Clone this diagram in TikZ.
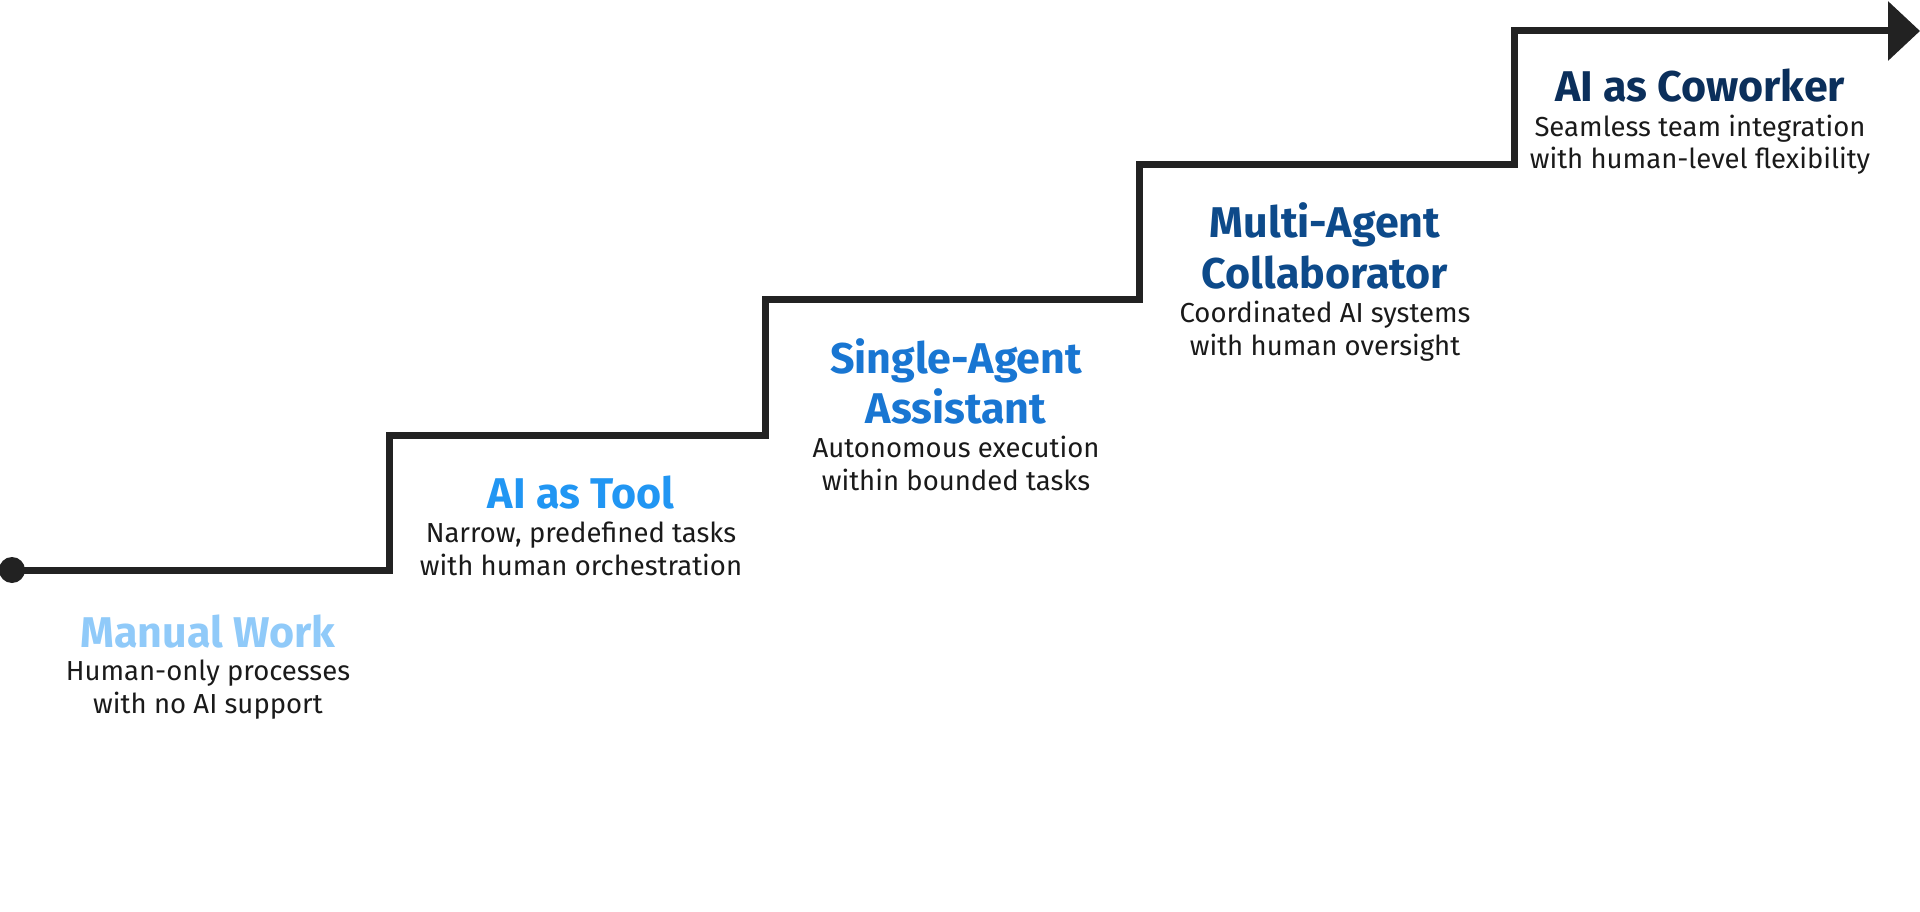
\documentclass[tikz,border=0pt]{standalone}
\usepackage{fontspec}
\setmainfont{Fira Sans}
\usetikzlibrary{arrows.meta}
\definecolor{lineC}{HTML}{222222}
\definecolor{txtC}{HTML}{1A1A1A}
\definecolor{cA}{HTML}{90CAF9}
\definecolor{cB}{HTML}{2196F3}
\definecolor{cC}{HTML}{1976D2}
\definecolor{cD}{HTML}{0D4A8A}
\definecolor{cE}{HTML}{0B2F5B}
\begin{document}
\begin{tikzpicture}[x=1pt,y=-1pt]
\tikzset{
  stair/.style={draw=lineC, line width=7pt, line join=miter},
  ttl/.style={font=\fontsize{43}{50}\selectfont\bfseries, anchor=base, inner sep=0pt},
  dsc/.style={font=\fontsize{27.5}{33}\selectfont, anchor=base, inner sep=0pt, text=txtC},
  startdot/.style={circle, fill=lineC, minimum size=26pt, inner sep=0pt}
}
\useasboundingbox (0,0) rectangle (1920,912);
% stair path
\node[startdot] (s0) at (12,570) {};
\coordinate (p1) at (389,570);
\coordinate (p2) at (389,435);
\coordinate (p3) at (765,435);
\coordinate (p4) at (765,299);
\coordinate (p5) at (1139,299);
\coordinate (p6) at (1139,165);
\coordinate (p7) at (1514,165);
\coordinate (p8) at (1514,31);
\coordinate (tip) at (1920,31);
\draw[stair, -{Triangle[length=32pt,width=58pt]}] (s0.center) -- (p1) -- (p2) -- (p3) -- (p4) -- (p5) -- (p6) -- (p7) -- (p8) -- (tip);
% stage 1
\node[ttl, text=cA] (t1) at (208,647) {Manual Work};
\node[dsc] (d1a) at (208,680) {Human-only processes};
\node[dsc] (d1b) at (208,713) {with no AI support};
% stage 2
\node[ttl, text=cB] (t2) at (581,508) {AI as Tool};
\node[dsc] (d2a) at (581,542) {Narrow, predefined tasks};
\node[dsc] (d2b) at (581,575) {with human orchestration};
% stage 3
\node[ttl, text=cC] (t3a) at (956,373) {Single-Agent};
\node[ttl, text=cC] (t3b) at (956,423) {Assistant};
\node[dsc] (d3a) at (956,457) {Autonomous execution};
\node[dsc] (d3b) at (956,490) {within bounded tasks};
% stage 4
\node[ttl, text=cD] (t4a) at (1325,238) {Multi-Agent};
\node[ttl, text=cD] (t4b) at (1325,288) {Collaborator};
\node[dsc] (d4a) at (1325,322) {Coordinated AI systems};
\node[dsc] (d4b) at (1325,355) {with human oversight};
% stage 5
\node[ttl, text=cE] (t5) at (1700,102) {AI as Coworker};
\node[dsc] (d5a) at (1700,137) {Seamless team integration};
\node[dsc] (d5b) at (1700,169) {with human-level flexibility};
\end{tikzpicture}
\end{document}
